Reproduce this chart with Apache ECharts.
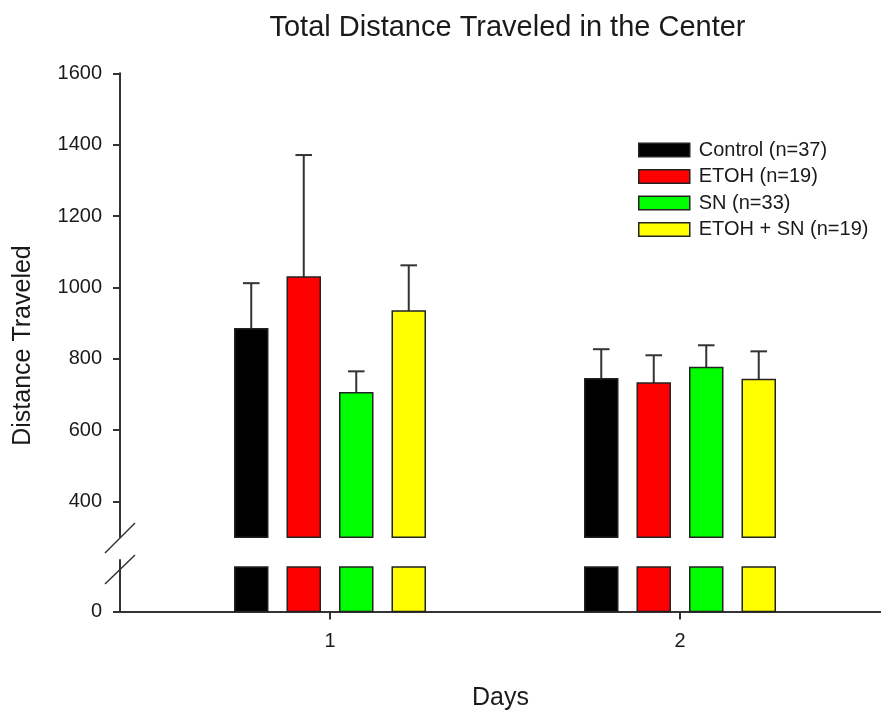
<!DOCTYPE html>
<html>
<head>
<meta charset="utf-8">
<script src="https://cdn.jsdelivr.net/npm/echarts@6/dist/echarts.min.js"></script>
<style>
html,body{margin:0;padding:0;background:#fff;}
#chart{width:881px;height:715px;}
</style>
</head>
<body>
<div id="chart"></div>
<script>
// ---- data ----
const days = [1, 2];
const groupNames = ['Control (n=37)', 'ETOH (n=19)', 'SN (n=33)', 'ETOH + SN (n=19)'];
const control = [884, 744];
const controlErr = [128, 83];
const etoh = [1029, 732];
const etohErr = [342, 78];
const sn = [705, 776];
const snErr = [60, 62];
const etohSn = [934, 742];
const etohSnErr = [128, 79];
const upperTicks = [400, 600, 800, 1000, 1200, 1400, 1600];
const lowerTicks = [0];
const xTicks = [1, 2];

// ---- layout / style ----
const colors = ['#000000', '#ff0000', '#00ff00', '#ffff00'];
const values = [control, etoh, sn, etohSn];
const errors = [controlErr, etohErr, snErr, etohSnErr];
const upperMin = 300, upperMax = 1600;
const lowerMin = 0, lowerMax = 116, lowerCap = 100;
const xMin = 0.4, xMax = 0.4 + 761 / 350;
const barW = 0.0943, groupStep = 0.15;
const textColor = '#1a1a1a';
const font = '"Liberation Sans", Arial, sans-serif';
const plain = v => String(v);

const chart = echarts.init(document.getElementById('chart'), null, {renderer: 'canvas'});

function barRenderer(k, base, cap) {
  return function (params, api) {
    const x = api.value(0) + (k - 1.5) * groupStep;
    let v = api.value(1);
    if (cap != null) v = Math.min(v, cap);
    const top = api.coord([x, v]);
    const bot = api.coord([x, base]);
    const w = api.size([barW, 0])[0];
    return {
      type: 'rect',
      shape: {x: top[0] - w / 2, y: top[1], width: w, height: bot[1] - top[1]},
      style: {fill: colors[k], stroke: '#222', lineWidth: 1.5}
    };
  };
}
function errRenderer(k) {
  return function (params, api) {
    const x = api.value(0) + (k - 1.5) * groupStep;
    const v = api.value(1), e = api.value(2);
    const p0 = api.coord([x, v]);
    const p1 = api.coord([x, v + e]);
    const cw = 8.3;
    return {
      type: 'group',
      children: [
        {type: 'line', shape: {x1: p0[0], y1: p0[1], x2: p1[0], y2: p1[1]}, style: {stroke: '#333', lineWidth: 2}},
        {type: 'line', shape: {x1: p1[0] - cw, y1: p1[1], x2: p1[0] + cw, y2: p1[1]}, style: {stroke: '#333', lineWidth: 2}}
      ]
    };
  };
}

const series = [];
groupNames.forEach((name, k) => {
  const data = days.map((d, i) => [d, values[k][i], errors[k][i]]);
  series.push({
    name, type: 'custom', xAxisIndex: 0, yAxisIndex: 0,
    itemStyle: {color: colors[k], borderColor: '#222', borderWidth: 1.5},
    renderItem: errRenderer(k), data, z: 2
  });
  series.push({
    name, type: 'custom', xAxisIndex: 0, yAxisIndex: 0,
    itemStyle: {color: colors[k], borderColor: '#222', borderWidth: 1.5},
    renderItem: barRenderer(k, upperMin, null), data, z: 3
  });
  series.push({
    name, type: 'custom', xAxisIndex: 1, yAxisIndex: 1,
    itemStyle: {color: colors[k], borderColor: '#222', borderWidth: 1.5},
    renderItem: barRenderer(k, lowerMin, lowerCap), data, z: 3
  });
});

const option = {
  backgroundColor: '#fff',
  animation: false,
  textStyle: {fontFamily: font, color: textColor},
  title: {
    text: 'Total Distance Traveled in the Center',
    left: 507.5, top: 13, textAlign: 'center', padding: 0,
    textStyle: {fontFamily: font, fontSize: 29, fontWeight: 'normal', color: textColor}
  },
  legend: {
    orient: 'vertical', left: 638, top: 140, padding: 0,
    itemWidth: 51, itemHeight: 13.5, itemGap: 6.5,
    textStyle: {fontFamily: font, fontSize: 20, lineHeight: 20, color: textColor, padding: [0, 0, 0, 4]},
    data: groupNames.map((n, k) => ({name: n, icon: 'rect', itemStyle: {color: colors[k], borderColor: '#222', borderWidth: 1.5}}))
  },
  grid: [
    {left: 120, right: 0, top: 73.3, height: 464},
    {left: 120, right: 0, top: 560, height: 51.5}
  ],
  xAxis: [
    {gridIndex: 0, type: 'value', min: xMin, max: xMax, show: false},
    {gridIndex: 1, type: 'value', min: xMin, max: xMax,
     axisLine: {show: true, onZero: false, lineStyle: {color: '#333', width: 2}},
     axisTick: {show: true, length: 8, customValues: xTicks, lineStyle: {color: '#333', width: 2}},
     axisLabel: {customValues: xTicks, formatter: plain, margin: 20, fontSize: 20, fontFamily: font, color: textColor},
     splitLine: {show: false},
     name: 'Days', nameLocation: 'middle', nameGap: 74,
     nameTextStyle: {fontFamily: font, fontSize: 25, color: textColor}
    }
  ],
  yAxis: [
    {gridIndex: 0, type: 'value', min: upperMin, max: upperMax,
     axisLine: {show: true, lineStyle: {color: '#333', width: 2}},
     axisTick: {show: true, length: 7, inside: false, customValues: upperTicks, lineStyle: {color: '#333', width: 2}},
     axisLabel: {customValues: upperTicks, formatter: plain, margin: 18, fontSize: 20, fontFamily: font, color: textColor},
     splitLine: {show: false}
    },
    {gridIndex: 1, type: 'value', min: lowerMin, max: lowerMax,
     axisLine: {show: true, lineStyle: {color: '#333', width: 2}},
     axisTick: {show: true, length: 7, customValues: lowerTicks, lineStyle: {color: '#333', width: 2}},
     axisLabel: {customValues: lowerTicks, formatter: plain, margin: 18, fontSize: 20, fontFamily: font, color: textColor},
     splitLine: {show: false}
    }
  ],
  graphic: [
    {type: 'text', x: 23, y: 345.5, rotation: Math.PI / 2,
     style: {text: 'Distance Traveled', fontFamily: font, fontSize: 25, fill: textColor, align: 'center', verticalAlign: 'middle'}},
    {type: 'line', shape: {x1: 105, y1: 553, x2: 135, y2: 523}, style: {stroke: '#333', lineWidth: 1.5}},
    {type: 'line', shape: {x1: 105, y1: 584, x2: 135, y2: 555}, style: {stroke: '#333', lineWidth: 1.5}}
  ],
  series
};
chart.setOption(option);
</script>
</body>
</html>
